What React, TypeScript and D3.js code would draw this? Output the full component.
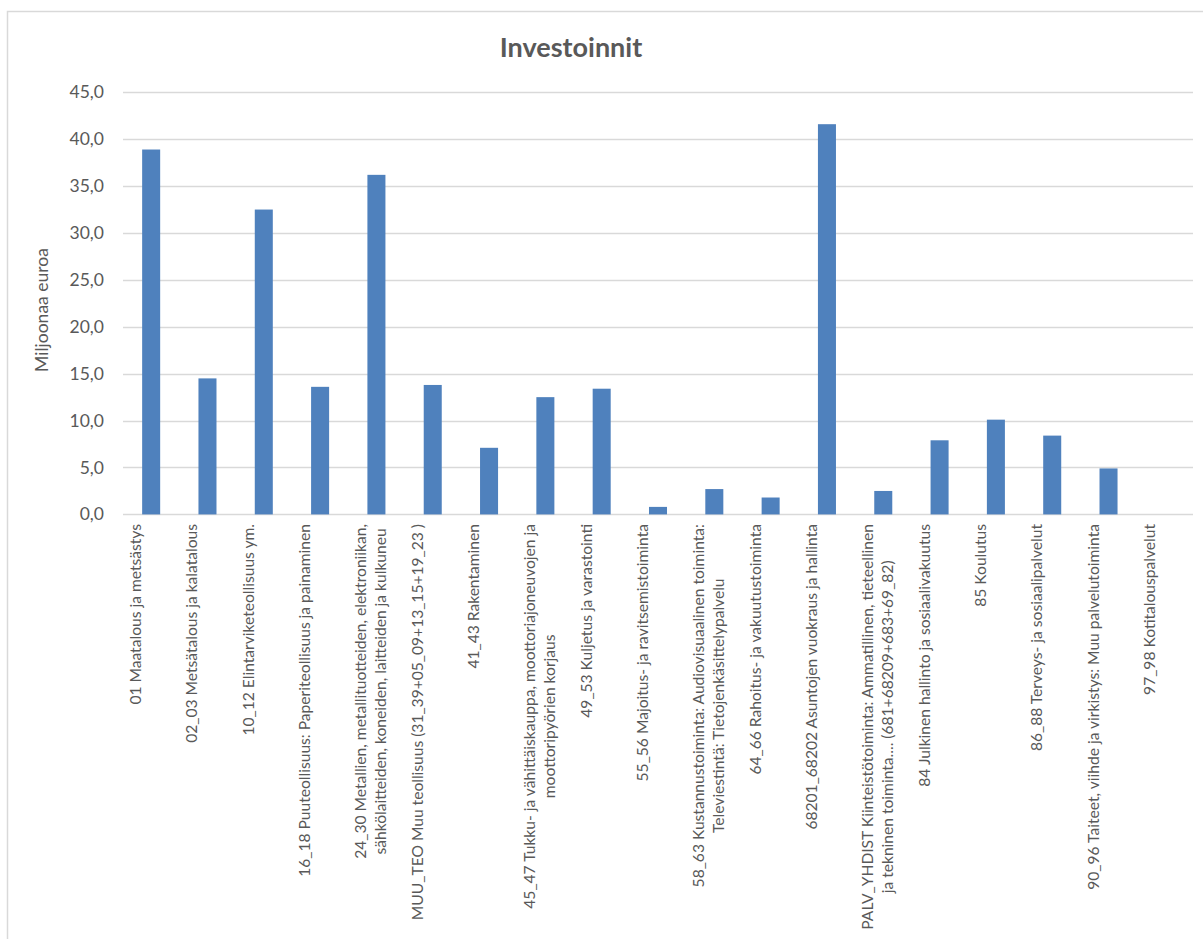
import { useRef, useEffect } from 'react';
import * as d3 from 'd3';

const categories: string[][] = [
  ['01 Maatalous ja metsästys'],
  ['02_03 Metsätalous ja kalatalous'],
  ['10_12 Elintarviketeollisuus ym.'],
  ['16_18 Puuteollisuus: Paperiteollisuus ja painaminen'],
  ['24_30 Metallien, metallituotteiden, elektroniikan,', 'sähkölaitteiden, koneiden, laitteiden ja kulkuneu'],
  ['MUU_TEO Muu teollisuus (31_39+05_09+13_15+19_23 )'],
  ['41_43 Rakentaminen'],
  ['45_47 Tukku- ja vähittäiskauppa, moottoriajoneuvojen ja', 'moottoripyörien korjaus'],
  ['49_53 Kuljetus ja varastointi'],
  ['55_56 Majoitus- ja ravitsemistoiminta'],
  ['58_63 Kustannustoiminta: Audiovisuaalinen toiminta:', 'Televiestintä: Tietojenkäsittelypalvelu'],
  ['64_66 Rahoitus- ja vakuutustoiminta'],
  ['68201_68202 Asuntojen vuokraus ja hallinta'],
  ['PALV_YHDIST Kiinteistötoiminta: Ammatillinen, tieteellinen', 'ja tekninen toiminta.... (681+68209+683+69_82)'],
  ['84 Julkinen hallinto ja sosiaalivakuutus'],
  ['85 Koulutus'],
  ['86_88 Terveys- ja sosiaalipalvelut'],
  ['90_96 Taiteet, viihde ja virkistys: Muu palvelutoiminta'],
  ['97_98 Kotitalouspalvelut'],
];

const values = [38.9, 14.5, 32.5, 13.6, 36.2, 13.8, 7.1, 12.5, 13.4, 0.8, 2.7, 1.8, 41.6, 2.5, 7.9, 10.1, 8.4, 4.9, 0];

const yTicks = [0, 5, 10, 15, 20, 25, 30, 35, 40, 45];

const W = 1203;
const H = 939;
const FONT = 'Lato, "Open Sans", sans-serif';

export default function App() {
  const svgRef = useRef<SVGSVGElement>(null);

  useEffect(() => {
    if (!svgRef.current) return;
    const svg = d3.select(svgRef.current);
    svg.selectAll('*').remove();

    const left = 123;
    const right = 1193;
    const top = 92.3;
    const bottom = 514.4;

    const x = d3.scaleBand<number>()
      .domain(d3.range(categories.length))
      .range([left, right])
      .paddingInner(0.68)
      .paddingOuter(0.34);
    const y = d3.scaleLinear().domain([0, 45]).range([bottom, top]);

    // chart frame
    svg.append('rect')
      .attr('x', 7.5).attr('y', 11.5)
      .attr('width', 1300).attr('height', 1000)
      .attr('fill', '#fff').attr('stroke', '#d9d9d9').attr('stroke-width', 1.5);

    // grid
    svg.append('g')
      .selectAll('line')
      .data(yTicks)
      .join('line')
      .attr('x1', left).attr('x2', right)
      .attr('y1', (d) => Math.round(y(d)) + 0.5)
      .attr('y2', (d) => Math.round(y(d)) + 0.5)
      .attr('stroke', '#d9d9d9')
      .attr('stroke-width', 1.3);

    // y tick labels
    svg.append('g')
      .selectAll('text')
      .data(yTicks)
      .join('text')
      .attr('x', 104)
      .attr('y', (d) => y(d) + 6)
      .attr('text-anchor', 'end')
      .attr('font-family', FONT)
      .attr('font-size', 17.5)
      .attr('fill', '#595959')
      .text((d) => d3.format('.1f')(d).replace('.', ','));

    // bars
    svg.append('g')
      .selectAll('rect')
      .data(values)
      .join('rect')
      .attr('x', (_, i) => x(i)!)
      .attr('width', x.bandwidth())
      .attr('y', (d) => y(d))
      .attr('height', (d) => y(0) - y(d))
      .attr('fill', '#4f81bd');

    // x labels (rotated, multi-line centered)
    const lineGap = 20;
    categories.forEach((lines, i) => {
      const cx = x(i)! + x.bandwidth() / 2;
      const g = svg.append('g');
      const texts = lines.map((ln) =>
        g.append('text')
          .attr('font-family', FONT)
          .attr('font-size', 15.6)
          .attr('fill', '#595959')
          .attr('text-anchor', 'end')
          .text(ln)
      );
      const widths = texts.map((t) => (t.node() as SVGTextElement).getComputedTextLength());
      const maxW = d3.max(widths) ?? 0;
      texts.forEach((t, j) => {
        const tx = cx - 10 + j * lineGap;
        const ty = 524 + (maxW - widths[j]) / 2;
        t.attr('transform', `translate(${tx},${ty}) rotate(-90)`);
      });
    });

    // y axis title
    svg.append('text')
      .attr('transform', `translate(48,310) rotate(-90)`)
      .attr('text-anchor', 'middle')
      .attr('font-family', FONT)
      .attr('font-size', 17.5)
      .attr('fill', '#595959')
      .text('Miljoonaa euroa');

    // title
    svg.append('text')
      .attr('x', 571)
      .attr('y', 57)
      .attr('text-anchor', 'middle')
      .attr('font-family', FONT)
      .attr('font-weight', 'bold')
      .attr('font-size', 27)
      .attr('fill', '#595959')
      .text('Investoinnit');
  }, []);

  return (
    <svg
      ref={svgRef}
      width={W}
      height={H}
      style={{ position: 'absolute', left: 0, top: 0, background: '#fff' }}
    />
  );
}
